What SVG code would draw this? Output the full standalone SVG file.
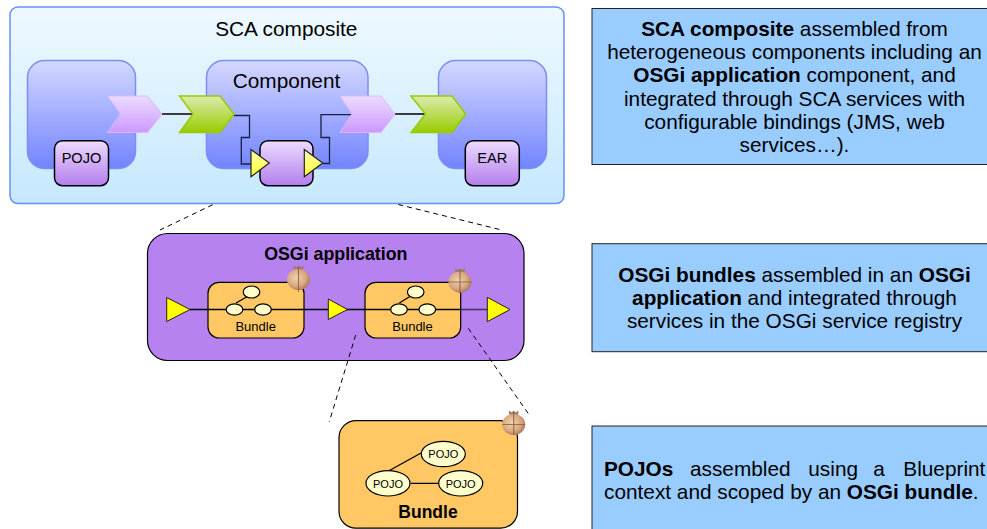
<svg xmlns="http://www.w3.org/2000/svg" width="987" height="529" viewBox="0 0 987 529">
<style>
text{font-family:"Liberation Sans",Arial,sans-serif;fill:#000}
.panel{fill:#99ccff;stroke:#222;stroke-width:1}
.p{font-size:20.8px;text-anchor:middle}
.b{font-weight:bold}
.comp{fill:url(#gComp);stroke:#7b8ef8;stroke-width:1.5}
.impl{fill:url(#gImpl);stroke:#000;stroke-width:1.5}
.pink{fill:url(#gPink);stroke:#dcb8fa;stroke-width:1}
.green{fill:url(#gGreen);stroke:#99cc00;stroke-width:1.5}
.tri{fill:url(#gTri);stroke:#222;stroke-width:1.2}
.ytri{fill:#ffff00;stroke:#222;stroke-width:1}
.bundle{fill:#ffc864;stroke:#000;stroke-width:1.2}
.el{fill:#ffffcc;stroke:#000;stroke-width:1.2}
.w{fill:none;stroke:#000;stroke-width:1.3}
.wd{fill:none;stroke:#1a2040;stroke-width:1.3}
.dash{fill:none;stroke:#000;stroke-width:1;stroke-dasharray:5 4}
.t14{font-size:14.6px;text-anchor:middle}
.t13{font-size:13px;text-anchor:middle}
.t11{font-size:11px;text-anchor:middle}
.ob{fill:url(#gOnion)}
.ol{fill:none;stroke:#8a5c3c;stroke-width:1.2;opacity:.8}
.ok{fill:#a07a68}
</style>
<defs>
<linearGradient id="gSca" x1="0" y1="0" x2="0" y2="1"><stop offset="0" stop-color="#eff9ff"/><stop offset="1" stop-color="#c6e8ff"/></linearGradient>
<linearGradient id="gComp" x1="0" y1="0" x2="0" y2="1"><stop offset="0" stop-color="#d4d8ff"/><stop offset="1" stop-color="#7284ff"/></linearGradient>
<linearGradient id="gImpl" x1="0" y1="0" x2="0" y2="1"><stop offset="0" stop-color="#ecdcff"/><stop offset="1" stop-color="#b47eee"/></linearGradient>
<linearGradient id="gPink" x1="0" y1="0" x2="0" y2="1"><stop offset="0" stop-color="#ecdcff"/><stop offset="1" stop-color="#cc99ff"/></linearGradient>
<linearGradient id="gGreen" x1="0" y1="0" x2="0" y2="1"><stop offset="0" stop-color="#dcebb0"/><stop offset="1" stop-color="#99cc00"/></linearGradient>
<linearGradient id="gTri" x1="0" y1="0" x2="0" y2="1"><stop offset="0" stop-color="#ffffb0"/><stop offset="1" stop-color="#ffff33"/></linearGradient>
<radialGradient id="gOnion" cx=".42" cy=".42" r=".62"><stop offset="0" stop-color="#f0d4ae"/><stop offset=".65" stop-color="#d8a880"/><stop offset="1" stop-color="#a87860"/></radialGradient>
<g id="onion"><path class="ok" d="M-5-14-2-12 0-14 2-12 5-14 4-7-4-7Z"/><ellipse class="ob" rx="11.500" ry="10.500"/></g>
</defs>

<g id="sca-composite">
<rect x="10" y="7" width="554" height="196.500" rx="8" fill="url(#gSca)" stroke="#6a8ef8" stroke-width="1.500"/>
<text x="286.300" y="36" style="font-size:20.800px;text-anchor:middle">SCA composite</text>
</g>

<g id="component-left">
<rect class="comp" x="27.500" y="60.500" width="108" height="108" rx="17"/>
</g>
<g id="component-middle">
<rect class="comp" x="206.500" y="60.500" width="161.500" height="108" rx="17"/>
<text x="286.500" y="87.500" style="font-size:20.800px;text-anchor:middle">Component</text>
</g>
<g id="component-right">
<rect class="comp" x="438.500" y="60.500" width="108" height="108" rx="17"/>
</g>

<g id="osgi-application">
<rect x="147.500" y="233.500" width="376.500" height="127" rx="20" fill="#b682f0" stroke="#000" stroke-width="1.200"/>
<text class="b" x="335.800" y="260" style="font-size:17.800px;text-anchor:middle">OSGi application</text>
</g>

<g id="connectors">
<path class="w" d="M162 114H193M395 114H426"/>
<path class="wd" d="M234 115.500H249.500V137.500H241.300V164H252"/>
<path class="wd" d="M323 163.500H329.500V137.500H321V114.700H352"/>
<path class="w" d="M190 309.500H365"/>
<path d="M460 309.500H488" fill="none" stroke="#4a3070" stroke-width="1.600"/>
<path class="dash" d="M212.700 204.700 160 230M398.300 204.500 501.700 230M355.700 335 329.300 421.700M468.300 328.300 529.300 415"/>
</g>

<g id="pojo-impl">
<rect class="impl" x="54.500" y="140.700" width="54" height="45" rx="8"/>
<text class="t14" x="81.500" y="163">POJO</text>
</g>
<g id="center-impl">
<rect class="impl" x="260" y="140.700" width="53" height="45" rx="8"/>
</g>
<g id="ear-impl">
<rect class="impl" x="465.300" y="140.700" width="54" height="45" rx="8"/>
<text class="t14" x="492.300" y="163">EAR</text>
</g>

<g id="service-left"><path class="pink" d="M107.500 96H147.500L162 114 147.500 132.500H107.500L120.500 114Z"/></g>
<g id="reference-left"><path class="green" d="M179.500 96H220L234 114 220 132.500H179.500L193 114Z"/></g>
<g id="service-right"><path class="pink" d="M340 96H381L395 114 381 132.500H340L352 114Z"/></g>
<g id="reference-right"><path class="green" d="M411 96H452L465.700 114 452 132.500H411L425.500 114Z"/></g>
<g id="port-in"><path class="tri" d="M251 149.500 269.300 163 251 176.700Z"/></g>
<g id="port-out"><path class="tri" d="M304.300 149.500 322.700 163 304.300 176.700Z"/></g>

<g id="app-bundle-1">
<rect class="bundle" x="208" y="282.300" width="96" height="55.700" rx="11"/>
<path class="w" d="M208 309.500H304M236 303 247 296.700"/>
<ellipse class="el" cx="251.500" cy="292" rx="8.300" ry="6"/>
<ellipse class="el" cx="234.500" cy="309.500" rx="8.300" ry="5.700"/>
<ellipse class="el" cx="263" cy="309.500" rx="8.300" ry="5.700"/>
<text class="t13" x="255.700" y="331">Bundle</text>
<use href="#onion" x="298.500" y="279.500"/>
<path class="ol" d="M298.500 267V292"/>
</g>
<g id="app-bundle-2">
<rect class="bundle" x="365" y="282.300" width="95.700" height="55.700" rx="11"/>
<path class="w" d="M365 309.500H460.700M399.300 303 409.500 296.700"/>
<ellipse class="el" cx="415.700" cy="292" rx="8.300" ry="6"/>
<ellipse class="el" cx="399" cy="309.500" rx="8.300" ry="5.700"/>
<ellipse class="el" cx="427.300" cy="309.500" rx="8.300" ry="5.700"/>
<text class="t13" x="412.500" y="331">Bundle</text>
<use href="#onion" x="460" y="282"/>
<path class="ol" d="M460 270V293M448.500 282H471.500"/>
</g>
<g id="app-port-1"><path class="ytri" d="M166.700 297.500 190 309.500 166.700 321.500Z"/></g>
<g id="app-port-2"><path class="ytri" d="M328.300 299 347.500 309.500 328.300 319.500Z"/></g>
<g id="app-port-3"><path class="ytri" d="M487.300 297.300 510 309.500 487.300 321.700Z"/></g>

<g id="bundle-detail">
<rect class="bundle" x="339" y="420.700" width="178.500" height="107.500" rx="17"/>
<path class="w" d="M389 470.700 421 453M410.700 483.300H438.300"/>
<ellipse class="el" cx="443.300" cy="454" rx="22" ry="12.700"/>
<ellipse class="el" cx="388" cy="483.300" rx="22" ry="12.700"/>
<ellipse class="el" cx="460.700" cy="483.300" rx="22" ry="12.700"/>
<text class="t11" x="443.300" y="458">POJO</text>
<text class="t11" x="388" y="487.500">POJO</text>
<text class="t11" x="460.700" y="487.500">POJO</text>
<text class="b" x="428" y="518" style="font-size:17.500px;text-anchor:middle">Bundle</text>
<use href="#onion" x="513.700" y="424.500"/>
<path class="ol" d="M513.700 412V435M502.200 424.500H525.200"/>
</g>

<g id="panel-sca">
<rect class="panel" x="592" y="8.500" width="400" height="156"/>
<text class="p" x="794.500" y="35.500"><tspan class="b">SCA composite</tspan> assembled from</text>
<text class="p" x="794.500" y="58.500">heterogeneous components including an</text>
<text class="p" x="794.500" y="82"><tspan class="b">OSGi application</tspan> component, and</text>
<text class="p" x="794.500" y="105.500">integrated through SCA services with</text>
<text class="p" x="794.500" y="128.500">configurable bindings (JMS, web</text>
<text class="p" x="794.500" y="152">services…).</text>
</g>
<g id="panel-osgi">
<rect class="panel" x="592" y="243.700" width="400" height="108"/>
<text class="p" x="794.500" y="281.500"><tspan class="b">OSGi bundles</tspan> assembled in an <tspan class="b">OSGi</tspan></text>
<text class="p" x="794.500" y="305"><tspan class="b">application</tspan> and integrated through</text>
<text class="p" x="794.500" y="328">services in the OSGi service registry</text>
</g>
<g id="panel-pojo">
<rect class="panel" x="592" y="426" width="400" height="110"/>
<text style="font-size:20.800px" y="476"><tspan class="b" x="604">POJOs</tspan><tspan x="690">assembled</tspan><tspan x="808.300">using</tspan><tspan x="873.300">a</tspan><tspan x="903.300">Blueprint</tspan></text>
<text style="font-size:20.800px" x="604" y="499">context and scoped by an <tspan class="b">OSGi bundle</tspan>.</text>
</g>
</svg>
